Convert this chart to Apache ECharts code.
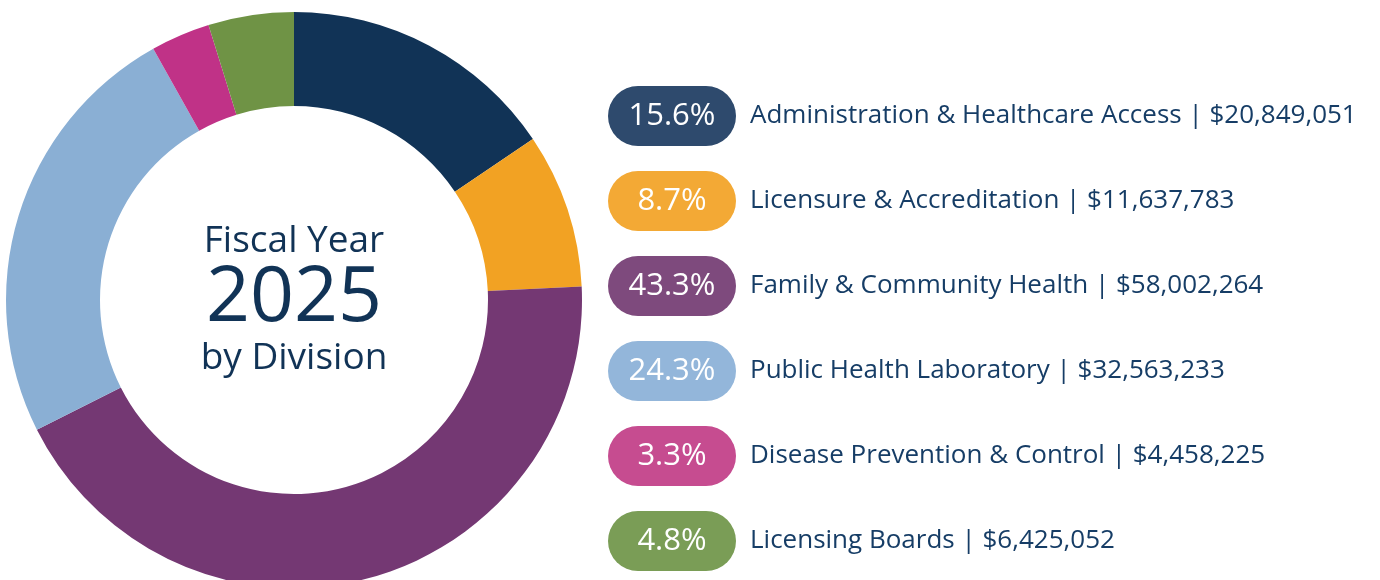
<!DOCTYPE html>
<html>
<head>
<meta charset="utf-8">
<style>
  html, body { margin: 0; padding: 0; background: #fff; }
  #chart { width: 1380px; height: 580px; }
</style>
</head>
<body>
<div id="chart"></div>
<script src="https://cdn.jsdelivr.net/npm/echarts@6.0.0/dist/echarts.min.js"></script>
<script>
  const divisions = [
    'Administration & Healthcare Access',
    'Licensure & Accreditation',
    'Family & Community Health',
    'Public Health Laboratory',
    'Disease Prevention & Control',
    'Licensing Boards'
  ];
  const amounts = [20849051, 11637783, 58002264, 32563233, 4458225, 6425052];
  const sliceColors = ['#113356', '#F2A223', '#743873', '#8AAFD4', '#C03287', '#6F9345'];
  const badgeColors = ['#2E4A6D', '#F3A935', '#7E4A7D', '#93B6DA', '#C64C90', '#7A9D56'];

  const total = amounts.reduce((a, b) => a + b, 0);
  const fontFamily = '"Open Sans", sans-serif';
  const textColor = '#163D66';

  const rich = {
    t: { fontSize: 26, color: textColor, fontFamily: fontFamily, padding: [0, 0, 0, 14] }
  };
  badgeColors.forEach((c, i) => {
    rich['p' + i] = {
      backgroundColor: c,
      color: '#fff',
      fontSize: 31,
      fontFamily: fontFamily,
      width: 128,
      height: 60,
      lineHeight: 60,
      align: 'center',
      borderRadius: 30
    };
  });

  const chart = echarts.init(document.getElementById('chart'));
  chart.setOption({
    animation: false,
    color: sliceColors,
    title: {
      left: 294,
      top: 300,
      padding: 0,
      textAlign: 'center',
      textVerticalAlign: 'middle',
      text: '{a|Fiscal Year}\n{b|2025}\n{c|by Division}',
      textStyle: {
        fontWeight: 'normal',
        rich: {
          a: { fontSize: 37, color: '#113356', fontFamily: fontFamily, lineHeight: 50 },
          b: { fontSize: 77, color: '#113356', fontFamily: fontFamily, lineHeight: 66 },
          c: { fontSize: 37, color: '#113356', fontFamily: fontFamily, lineHeight: 52 }
        }
      }
    },
    legend: {
      orient: 'vertical',
      left: 603,
      top: 86,
      height: 500,
      padding: 0,
      icon: 'none',
      itemWidth: 0,
      itemHeight: 0,
      itemGap: 25,
      selectedMode: false,
      data: divisions,
      formatter: name => {
        const i = divisions.indexOf(name);
        const pct = (amounts[i] / total * 100).toFixed(1) + '%';
        return '{p' + i + '|' + pct + '}{t|' + name + ' | $' + amounts[i].toLocaleString('en-US') + '}';
      },
      textStyle: { rich: rich }
    },
    series: [{
      type: 'pie',
      center: [294, 300],
      radius: [194, 288],
      startAngle: 90,
      silent: true,
      label: { show: false },
      labelLine: { show: false },
      data: divisions.map((d, i) => ({ name: d, value: amounts[i] }))
    }]
  });
</script>
</body>
</html>
